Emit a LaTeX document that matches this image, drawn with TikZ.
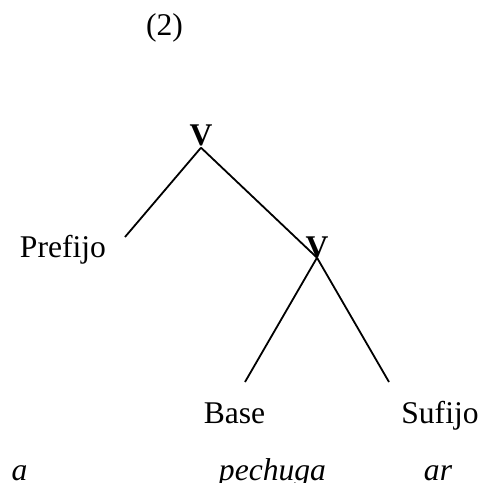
\documentclass[tikz,border=0pt]{standalone}
\usepackage{fontspec}
\setmainfont{Liberation Serif}
\begin{document}
\begin{tikzpicture}[x=1pt,y=-1pt,
  lbl/.style={inner sep=0pt,anchor=base,font=\fontsize{31.6pt}{38pt}\selectfont},
  cat/.style={lbl,font=\fontsize{31.6pt}{38pt}\selectfont\bfseries},
  ex/.style={lbl,font=\fontsize{31.6pt}{38pt}\selectfont\itshape},
  branch/.style={draw=black,line width=1.8pt}]
\useasboundingbox (0,0) rectangle (482,483);
\node[lbl] (num) at (164.5,35) {(2)};
\node[cat] (v1) at (201,145) {V};
\node[lbl] (pre) at (63,257) {Prefijo};
\node[cat] (v2) at (317,257) {V};
\node[lbl] (base) at (234.5,423) {Base};
\node[lbl] (suf) at (440,423) {Sufijo};
\node[ex] (ea) at (19.5,480) {a};
\node[ex] (epe) at (272.5,480) {pechuga};
\node[ex] (ear) at (438,480) {ar};
\coordinate (cpre) at (125,237);
\coordinate (cbase) at (245,382);
\coordinate (csuf) at (389,382);
\draw[branch] ([yshift=-2pt]v1.south) -- (cpre);
\draw[branch] ([yshift=-2pt]v1.south) -- (v2.south);
\draw[branch] (v2.south) -- (cbase);
\draw[branch] (v2.south) -- (csuf);
\end{tikzpicture}
\end{document}
